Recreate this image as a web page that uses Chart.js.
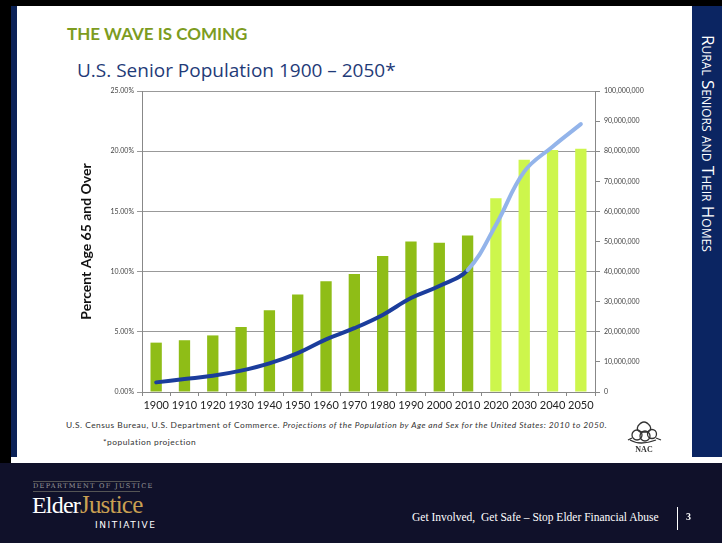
<!DOCTYPE html>
<html>
<head>
<meta charset="utf-8">
<script src="https://cdn.jsdelivr.net/npm/chart.js@4.4.1/dist/chart.umd.min.js"></script>
<style>
  html, body { margin:0; padding:0; }
  body { width:722px; height:543px; position:relative; overflow:hidden; background:#fff; font-family: Lato, "Open Sans", sans-serif; }
  .abs { position:absolute; }
  #topbar { left:0; top:0; width:722px; height:6px; background:#000; }
  #leftbar { left:0; top:0; width:11px; height:463px; background:#000; }
  #leftnavy { left:11px; top:6px; width:6px; height:451px; background:#0b2257; }
  #sidebar { left:692px; top:6px; width:30px; height:451px; background:#0b2562; }
  #sidetext { left:708px; top:35px; transform-origin:0 0; transform:rotate(90deg) translateY(-50%); color:#fff; font-family:"Open Sans", Lato, sans-serif; font-size:17px; font-variant:small-caps; white-space:nowrap; letter-spacing:0px; }
  #title1 { left:67px; top:23px; color:#7d9c1f; font-weight:bold; font-size:17px; font-family:Lato, "Open Sans", sans-serif; white-space:nowrap; }
  #title2 { left:77px; top:57px; color:#1f3b78; font-size:19px; font-family:"Open Sans", Lato, sans-serif; white-space:nowrap; }
  #chartwrap { left:60px; top:80px; width:600px; height:340px; }
  #foot1 { left:66px; top:420px; font-size:8.4px; letter-spacing:0.5px; color:#333; white-space:nowrap; }
  #foot2 { left:103px; top:437px; font-size:8.4px; letter-spacing:0.5px; color:#333; white-space:nowrap; }
  #footer { left:0; top:463px; width:722px; height:80px; background:#10112a; }
  #doj { left:33px; top:481px; width:107px; border-top:1px solid #555; border-bottom:1px solid #555; color:#9a9a9a; font-family:"DejaVu Serif", "Liberation Serif", serif; font-size:6.6px; letter-spacing:1.3px; line-height:9px; white-space:nowrap; text-align:center; }
  #elder { left:32px; top:491px; color:#fff; font-family:"Liberation Serif", serif; font-size:24px; white-space:nowrap; letter-spacing:-0.8px; }
  #elder span { color:#c9a052; font-size:25px; }
  #initiative { left:95px; top:520px; color:#fff; font-family:"DejaVu Sans", sans-serif; font-size:9px; letter-spacing:1.6px; white-space:nowrap; }
  #tagline { left:412px; top:511px; color:#fff; font-family:"Liberation Serif", serif; font-size:11.5px; white-space:nowrap; }
  #vline { left:677px; top:507px; width:1px; height:23px; background:#fff; }
  #pagenum { left:686px; top:511px; color:#fff; font-family:"Liberation Serif", serif; font-size:10px; font-weight:bold; }
  #nac { left:624px; top:416px; }
</style>
</head>
<body>
<div id="topbar" class="abs"></div>
<div id="leftbar" class="abs"></div>
<div id="leftnavy" class="abs"></div>
<div id="sidebar" class="abs"></div>
<div id="sidetext" class="abs">Rural Seniors and Their Homes</div>
<div id="title1" class="abs">THE WAVE IS COMING</div>
<div id="title2" class="abs">U.S. Senior Population 1900 – 2050*</div>
<div id="chartwrap" class="abs"><canvas id="c" width="600" height="340"></canvas></div>
<div id="foot1" class="abs">U.S. Census Bureau, U.S. Department of Commerce. <i>Projections of the Population by Age and Sex for the United States: 2010 to 2050.</i></div>
<div id="foot2" class="abs">*population projection</div>
<svg id="nac" class="abs" width="40" height="38" viewBox="0 0 40 38">
  <g fill="none" stroke="#333" stroke-width="1.3">
    <path d="M14 10 q6 -8 12 0 q2 4 -2 6 h-8 q-4 -2 -2 -6z"/>
    <circle cx="13" cy="19" r="5"/>
    <circle cx="21" cy="20" r="5"/>
    <circle cx="28" cy="18" r="4.5"/>
    <path d="M6 24 q10 6 26 0"/>
    <path d="M8 22 l-4 2 M32 22 l5 2"/>
  </g>
  <text x="20" y="36" text-anchor="middle" font-family="Liberation Serif, serif" font-size="8" font-weight="bold" fill="#333">NAC</text>
</svg>
<div id="footer" class="abs"></div>
<div id="doj" class="abs">DEPARTMENT OF JUSTICE</div>
<div id="elder" class="abs">Elder<span>Justice</span></div>
<div id="initiative" class="abs">INITIATIVE</div>
<div id="tagline" class="abs">Get Involved,&nbsp; Get Safe – Stop Elder Financial Abuse</div>
<div id="vline" class="abs"></div>
<div id="pagenum" class="abs">3</div>
<script>
const years = ['1900','1910','1920','1930','1940','1950','1960','1970','1980','1990','2000','2010','2020','2030','2040','2050'];
const pctAge65 = [4.1, 4.3, 4.7, 5.4, 6.8, 8.1, 9.2, 9.8, 11.3, 12.5, 12.4, 13.0, 16.1, 19.3, 20.1, 20.2];
const population65 = [3200000, 4300000, 5400000, 7100000, 9500000, 12900000, 17500000, 21200000, 25600000, 31200000, 35200000, 40500000, 55500000, 73200000, 81500000, 89000000];
const firstProjectedIndex = 12;

const barHist = '#8fbd17', barProj = '#cdf64c';
const lineHist = '#1b3d9c', lineProj = '#93b4ea';

new Chart(document.getElementById('c'), {
  data: {
    labels: years,
    datasets: [
      {
        type: 'line',
        data: population65,
        yAxisID: 'y2',
        borderWidth: 4,
        tension: 0.4,
        pointRadius: 0,
        borderCapStyle: 'round',
        borderColor: lineHist,
        segment: { borderColor: ctx => ctx.p0DataIndex >= firstProjectedIndex - 1 ? lineProj : lineHist },
        order: 0
      },
      {
        type: 'bar',
        data: pctAge65,
        yAxisID: 'y',
        backgroundColor: pctAge65.map((v, i) => i >= firstProjectedIndex ? barProj : barHist),
        categoryPercentage: 1,
        barPercentage: 0.4,
        order: 1
      }
    ]
  },
  options: {
    responsive: false,
    animation: false,
    layout: { padding: { top: 11, left: 0, right: 0, bottom: 0 } },
    plugins: { legend: { display: false }, tooltip: { enabled: false } },
    scales: {
      x: {
        offset: true,
        grid: { offset: true, drawOnChartArea: false, tickLength: 4, color: '#888' },
        border: { color: '#888' },
        ticks: { color: '#222', font: { family: 'Lato, sans-serif', size: 11 }, padding: 3, maxRotation: 0, autoSkip: false },
        afterFit: s => { s.height = 28; }
      },
      y: {
        position: 'left',
        min: 0, max: 25,
        ticks: { stepSize: 5, color: '#444', font: { family: 'Lato, sans-serif', size: 7 }, padding: 3, callback: v => v.toFixed(2) + '%' },
        grid: { color: '#999', tickLength: 5 },
        border: { color: '#888' },
        title: { display: true, text: 'Percent Age 65 and Over', color: '#111', font: { family: 'Lato, sans-serif', size: 14, weight: 'bold' }, padding: { top: 18, bottom: 0 } },
        afterFit: s => { s.width = 82; }
      },
      y2: {
        position: 'right',
        min: 0, max: 100000000,
        ticks: { stepSize: 10000000, color: '#444', font: { family: 'Lato, sans-serif', size: 7 }, padding: 4, callback: v => v.toLocaleString('en-US') },
        grid: { drawOnChartArea: false, tickLength: 5, color: '#888' },
        border: { color: '#888' },
        afterFit: s => { s.width = 65; }
      }
    }
  }
});
</script>
</body>
</html>
